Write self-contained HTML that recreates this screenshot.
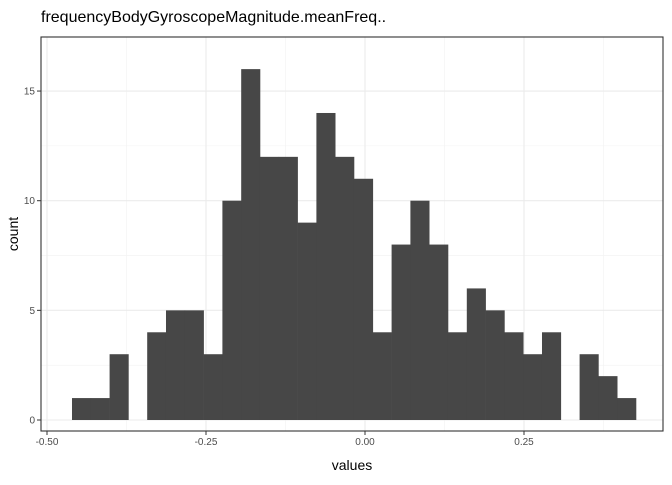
<!DOCTYPE html>
<html><head><meta charset="utf-8"><style>
body{margin:0;background:#fff;font-family:"Liberation Sans",sans-serif;}
</style></head><body>
<svg id="chart" width="672" height="480" xmlns="http://www.w3.org/2000/svg">
<text x="41" y="22" font-size="16" fill="#000">frequencyBodyGyroscopeMagnitude.meanFreq..</text>
<g id="grid"></g><g id="bars"></g><g id="axes"></g>
<text x="352" y="470" font-size="14" text-anchor="middle">values</text>
<text transform="translate(18,234) rotate(-90)" font-size="14" text-anchor="middle">count</text>
</svg>
<script>
const counts=[1,1,3,0,4,5,5,3,10,16,12,12,9,14,12,11,4,8,10,8,4,6,5,4,3,4,0,3,2,1];
const binStart=-0.4607;
const binWidth=0.02956;
const xTicks=[-0.5,-0.25,0,0.25];
const xTickLabels=["-0.50","-0.25","0.00","0.25"];
const yTicks=[0,5,10,15];
const L=41,R=663,T=37,B=431;
const X=v=>365+v*636;
const Y=v=>420-v*21.93;
const NS="http://www.w3.org/2000/svg";
function mk(tag,attrs,parent){const e=document.createElementNS(NS,tag);for(const k in attrs)e.setAttribute(k,attrs[k]);parent.appendChild(e);return e;}
const grid=document.getElementById('grid'),bars=document.getElementById('bars'),axes=document.getElementById('axes');
// minor grid
for(let i=0;i<xTicks.length;i++){const m=xTicks[i]+0.125;if(X(m)<R){const l=mk('line',{x1:X(m),x2:X(m),y1:T,y2:B,stroke:'#f2f2f2','stroke-width':0.6},grid);}}
for(let i=0;i<yTicks.length;i++){const m=yTicks[i]+2.5;if(Y(m)>T){const l=mk('line',{x1:L,x2:R,y1:Y(m),y2:Y(m),stroke:'#f2f2f2','stroke-width':0.6},grid);}}
xTicks.forEach((t,i)=>{const l=mk('line',{x1:X(t),x2:X(t),y1:T,y2:B,stroke:'#ebebeb','stroke-width':1.1},grid);
const tk=mk('line',{x1:X(t),x2:X(t),y1:B,y2:B+4,stroke:'#333'},axes);
const tx=mk('text',{x:X(t),y:B+14,'font-size':10,'text-anchor':'middle',fill:'#4d4d4d'},axes);tx.textContent=xTickLabels[i];});
yTicks.forEach(t=>{const l=mk('line',{x1:L,x2:R,y1:Y(t),y2:Y(t),stroke:'#ebebeb','stroke-width':1.1},grid);
const tk=mk('line',{x1:L-4,x2:L,y1:Y(t),y2:Y(t),stroke:'#333'},axes);
const tx=mk('text',{x:L-6,y:Y(t)+3.5,'font-size':10,'text-anchor':'end',fill:'#4d4d4d'},axes);tx.textContent=t;});
counts.forEach((c,i)=>{if(c<=0)return;const x0=X(binStart+i*binWidth),x1=X(binStart+(i+1)*binWidth);
const r=mk('rect',{x:x0,y:Y(c),width:x1-x0+0.3,height:Y(0)-Y(c),fill:'#474747'},bars);});
const f=mk('rect',{x:L,y:T,width:R-L,height:B-T,fill:'none',stroke:'#333','stroke-width':1.1},axes);
</script>
</body></html>
